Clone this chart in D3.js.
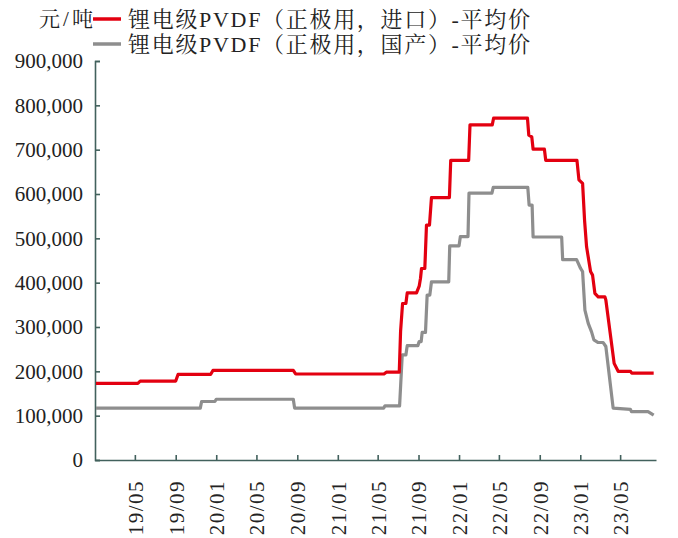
<!DOCTYPE html>
<html><head><meta charset="utf-8">
<script src="https://cdn.jsdelivr.net/npm/d3@7"></script>
<style>
html,body{margin:0;padding:0;background:#fff;}
svg{display:block;}
text{font-family:"Liberation Serif","Times New Roman","Noto Serif CJK SC","Noto Sans CJK SC",serif;fill:#222;}
</style></head>
<body>
<svg id="chart" width="678" height="538"></svg>
<script>
const yUnit = "元/吨";
const seriesNames = ["锂电级PVDF（正极用，进口）-平均价", "锂电级PVDF（正极用，国产）-平均价"];
const seriesColors = ["#e30010", "#8e8e8e"];

const importDates = ["2019-01-04","2019-05-10","2019-05-17","2019-09-01","2019-09-08","2019-12-15","2019-12-22",
 "2020-08-20","2020-08-27","2021-05-20","2021-05-27","2021-07-05","2021-07-09","2021-07-15","2021-07-25","2021-07-29",
 "2021-08-26","2021-09-03","2021-09-07","2021-09-10","2021-09-20","2021-09-25","2021-10-04","2021-10-10",
 "2021-12-03","2021-12-07","2022-01-30","2022-02-03","2022-04-11","2022-04-15","2022-07-26","2022-07-30",
 "2022-08-08","2022-08-12","2022-09-15","2022-09-19","2022-12-22","2022-12-28","2023-01-08","2023-01-14",
 "2023-01-20","2023-02-01","2023-02-07","2023-02-14","2023-02-24","2023-03-16","2023-03-19","2023-04-13",
 "2023-04-25","2023-06-01","2023-06-05","2023-08-10"];
const importValues = [173000,173000,178000,178000,193000,193000,202000,
 202000,194000,194000,198000,198000,290000,353000,353000,377000,
 377000,392000,410000,432000,432000,530000,530000,592000,
 592000,676000,676000,756000,756000,771000,771000,733000,
 729000,701000,701000,676000,676000,632000,624000,540000,
 481000,425000,417000,376000,368000,368000,361000,218000,
 200000,200000,196000,196000];

const domesticDates = ["2019-01-04","2019-11-14","2019-11-18","2019-12-28","2020-01-01","2020-08-20","2020-08-24",
 "2021-05-19","2021-05-23","2021-07-06","2021-07-14","2021-07-25","2021-07-29","2021-08-30","2021-09-03",
 "2021-09-09","2021-09-12","2021-09-22","2021-09-27","2021-10-05","2021-10-10","2021-12-01","2021-12-04",
 "2022-01-01","2022-01-05","2022-01-28","2022-01-31","2022-04-10","2022-04-14","2022-07-27","2022-07-31",
 "2022-08-09","2022-08-12","2022-11-06","2022-11-09","2022-12-21","2023-01-02","2023-01-08","2023-01-15",
 "2023-01-25","2023-02-04","2023-02-11","2023-02-24","2023-03-11","2023-03-19","2023-04-10","2023-06-01",
 "2023-06-04","2023-07-24","2023-08-10"];
const domesticValues = [117000,117000,132000,132000,137000,137000,117000,
 117000,122000,122000,237000,237000,258000,258000,267000,
 267000,288000,288000,372000,372000,402000,402000,483000,
 483000,504000,504000,602000,602000,615000,615000,575000,
 575000,503000,503000,452000,452000,432000,425000,338000,
 308000,289000,271000,265000,265000,256000,117000,114000,
 109000,109000,101000];

const yTicks = [0,100000,200000,300000,400000,500000,600000,700000,800000,900000];
const xTickDates = ["2019-05-01","2019-09-01","2020-01-01","2020-05-01","2020-09-01","2021-01-01","2021-05-01",
 "2021-09-01","2022-01-01","2022-05-01","2022-09-01","2023-01-01","2023-05-01"];

const parse = d3.timeParse("%Y-%m-%d");
const axisColor = "#42615d";
const svg = d3.select("#chart");

const x = d3.scaleTime().domain([parse("2019-01-01"), parse("2023-08-17")]).range([95, 656]);
const y = d3.scaleLinear().domain([0, 900000]).range([460, 61]);

// Y axis
const gy = svg.append("g").attr("transform", "translate(95,0)")
  .call(d3.axisLeft(y).tickValues(yTicks).tickFormat(d3.format(",")).tickSizeInner(-5).tickSizeOuter(-5).tickPadding(12));
gy.selectAll("path,line").attr("stroke", axisColor).attr("stroke-width", 1.6);
gy.selectAll("text").attr("font-size", 21).attr("fill", "#222")
  .style("font-family", '"Liberation Serif","Times New Roman",serif');

// X axis
const gx = svg.append("g").attr("transform", "translate(0,460)")
  .call(d3.axisBottom(x).tickValues(xTickDates.map(parse)).tickFormat(d3.timeFormat("%y/%m")).tickSizeInner(-5).tickSizeOuter(0));
gx.selectAll("path,line").attr("stroke", axisColor).attr("stroke-width", 1.6);
gx.selectAll("text")
  .attr("transform", "rotate(-90)")
  .attr("text-anchor", "end")
  .attr("x", -20).attr("y", 0).attr("dy", "0.35em")
  .attr("font-size", 21).attr("letter-spacing", 1.5).attr("fill", "#222")
  .style("font-family", '"Liberation Serif","Times New Roman",serif');

// Lines
const line = d3.line().x(d => x(d.date)).y(d => y(d.value));
const mk = (ds, vs) => ds.map((d, i) => ({date: parse(d), value: vs[i]}));
const seriesData = [mk(importDates, importValues), mk(domesticDates, domesticValues)];

[1, 0].forEach(i => {
  svg.append("path").datum(seriesData[i])
    .attr("fill", "none").attr("stroke", seriesColors[i]).attr("stroke-width", 3.2)
    .attr("stroke-linejoin", "round").attr("d", line);
});

// Unit label & legend
svg.append("text").attr("x", 39).attr("y", 26).attr("font-size", 21)
  .attr("textLength", 54).attr("lengthAdjust", "spacing").text(yUnit);

seriesNames.forEach((name, i) => {
  const cy = 19 + i * 25;
  svg.append("line").attr("x1", 93).attr("x2", 121).attr("y1", cy).attr("y2", cy)
    .attr("stroke", seriesColors[i]).attr("stroke-width", 3.5);
  svg.append("text").attr("x", 128).attr("y", cy + 8).attr("font-size", 22)
    .attr("textLength", 402).attr("lengthAdjust", "spacing").text(name);
});
</script>
</body></html>
